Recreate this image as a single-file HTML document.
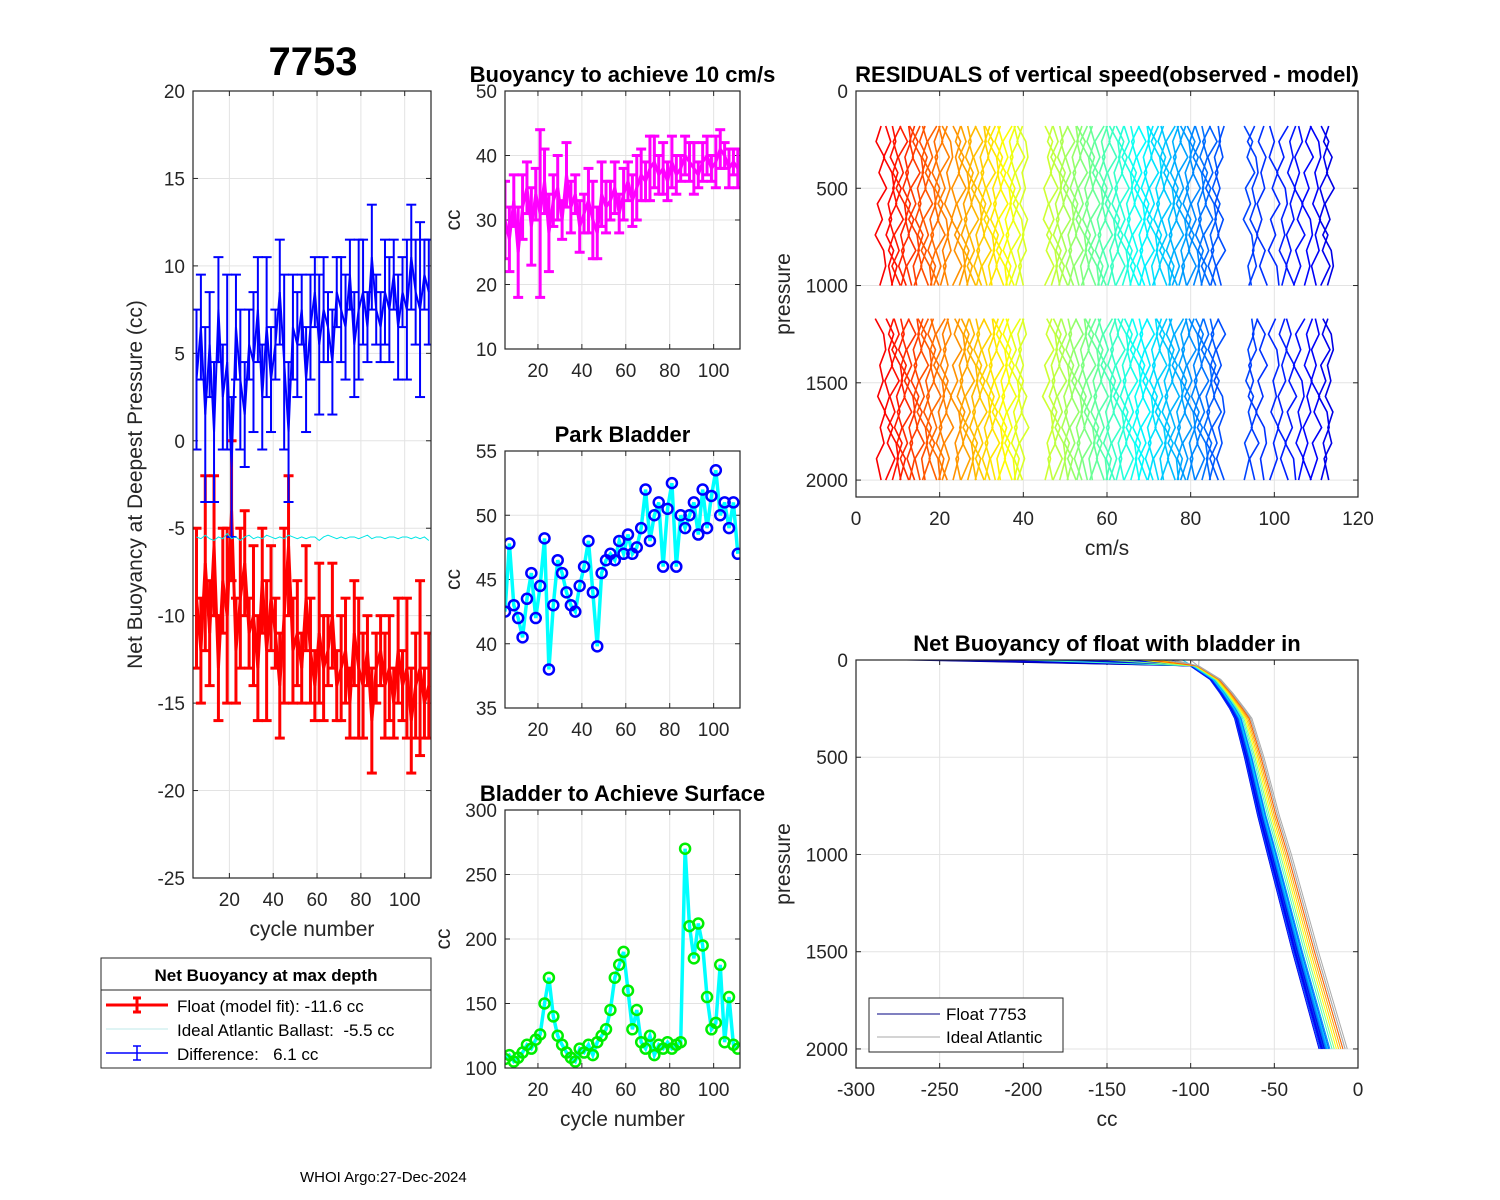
<!DOCTYPE html>
<html><head><meta charset="utf-8">
<style>
html,body{margin:0;padding:0;background:#fff;}
svg{display:block;font-family:"Liberation Sans",Arial,sans-serif;}
text{white-space:pre;}
</style></head>
<body>
<svg id="fig" width="1500" height="1200" viewBox="0 0 1500 1200" xmlns="http://www.w3.org/2000/svg">
<rect width="1500" height="1200" fill="#fff"/>
<text x="313" y="75" font-size="40" font-weight="bold" text-anchor="middle">7753</text>
<text x="300" y="1182" font-size="15">WHOI Argo:27-Dec-2024</text>
</svg>
<script>
// ---------- DATA ----------
const cycles = [5,7,9,11,13,15,17,19,21,23,25,27,29,31,33,35,37,39,41,43,45,47,49,51,53,55,57,59,61,63,65,67,69,71,73,75,77,79,81,83,85,87,89,91,93,95,97,99,101,103,105,107,109,111];
const floatFit = [-9,-12,-7,-11,-6,-13,-8,-10,-4,-12,-9,-7,-11,-10,-13,-8,-12,-9,-11,-14,-10,-6,-12,-11,-13,-9,-12,-14,-11,-13,-12,-10,-14,-13,-12,-15,-11,-13,-14,-12,-16,-13,-12,-14,-13,-15,-12,-14,-13,-16,-14,-13,-15,-14];
const diffVals = [3.5,6.5,1.5,5.5,0.5,7.5,2.5,4.5,-1.5,6.5,3.5,1.5,5.5,4.5,7.5,2.5,6.5,3.5,5.5,8.5,4.5,0.5,6.5,5.5,7.5,3.5,6.5,8.5,5.5,7.5,6.5,4.5,8.5,7.5,6.5,9.5,5.5,7.5,8.5,6.5,10.5,7.5,6.5,8.5,7.5,9.5,6.5,8.5,7.5,10.5,8.5,7.5,9.5,8.5];
const errVals = [4,3,5,3,4,3,3,5,4,3,4,3,2,4,3,3,4,3,2,3,5,4,3,3,2,3,3,2,4,3,2,3,2,3,3,2,3,4,3,2,3,2,2,3,3,2,3,2,4,3,3,5,2,3];
const idealVals = [-5.5,-5.6,-5.4,-5.6,-5.7,-5.5,-5.6,-5.3,-5.6,-5.5,-5.7,-5.5,-5.4,-5.6,-5.5,-5.6,-5.4,-5.5,-5.6,-5.5,-5.6,-5.4,-5.5,-5.6,-5.5,-5.6,-5.5,-5.5,-5.7,-5.5,-5.4,-5.5,-5.6,-5.5,-5.6,-5.5,-5.5,-5.6,-5.5,-5.4,-5.6,-5.5,-5.5,-5.6,-5.5,-5.5,-5.6,-5.5,-5.5,-5.6,-5.5,-5.6,-5.5,-5.7];
const buoy10 = [30,27,33,25,32,35,29,34,31,36,28,33,35,30,37,32,34,29,31,33,30,28,34,32,33,35,31,34,36,33,35,37,36,38,39,37,38,36,39,37,38,40,39,38,37,39,40,38,39,41,40,38,39,38];
const buoy10Err = [6,5,4,7,5,4,6,4,13,5,6,4,5,3,5,4,3,4,3,5,6,4,5,4,3,4,3,4,3,4,5,4,3,5,4,3,4,3,4,3,2,3,3,4,2,3,3,2,4,3,2,3,2,3];
const parkBladder = [42.5,47.8,43,42,40.5,43.5,45.5,42,44.5,48.2,38,43,46.5,45.5,44,43,42.5,44.5,46,48,44,39.8,45.5,46.5,47,46.5,48,47,48.5,47,47.5,49,52,48,50,51,46,50.5,52.5,46,50,49,50,51,48.5,52,49,51.5,53.5,50,51,49,51,47];
const surfBladder = [107,110,105,108,112,118,115,122,126,150,170,140,125,118,112,108,105,115,112,118,110,120,125,130,145,170,180,190,160,130,145,120,115,125,110,118,115,120,115,118,120,270,210,185,212,195,155,130,135,180,120,155,118,115];
const resCenters = [6,8,9,10,11,12,13,14,15,16,17,18,19,20,21,22,24,25,26,27,28,29,30,31,32,33,34,35,36,37,38,39,40,46,47,48,49,50,51,52,53,54,55,56,57,58,59,60,61,62,63,64,65,66,67,68,69,70,71,72,73,74,75,76,77,78,79,80,81,82,83,84,85,86,87,94,95,97,100,102,104,106,108,110,112,113];
const resPressures = [180,260,340,420,500,580,660,740,820,900,1000];
const resPressures2 = [1170,1250,1330,1410,1490,1570,1650,1730,1810,1890,2000];
const wiggle = [0,-1.2,0.8,-0.5,1.3,-0.9,0.3,-1.4,0.6,1.1,-0.3,0.5,-0.8,1.0,-0.2,0.7,-1.1];
const profP = [0,30,100,170,250,300,500,800,1000,1500,2000];
const profCC = [-150,-100,-88,-82,-76,-73,-67,-59,-53,-38,-22];
const profSurf = [-270,-260,-240,-220,-200,-190,-180,-170,-160,-150,-140,-135,-130,-125,-120,-118,-115,-112,-110,-105,-200,-150,-130,-120,-110,-115,-100,-95,-125,-110];
const profShift = [0,1,2,-1,0.5,1.5,-0.5,2.5,3,1,2,0,3.5,1.5,2,4,0.5,1,2.5,3,5,6,7,8,9,10,11,12,10,11];
const profColor = ['#00008f','#0000af','#0000cf','#0000ef','#0010ff','#0030ff','#0050ff','#0000bf','#0020ff','#0000df','#0040ff','#0000ff','#0060ff','#0010df','#0070ff','#0090ff','#0000ef','#0030ff','#00a0ff','#00d0ff','#40ffbf','#80ff80','#ffff00','#ffd000','#ffa000','#aaaaaa','#aaaaaa','#aaaaaa','#ff6000','#aaaaaa'];

// ---------- HELPERS ----------
const svg = document.getElementById('fig');
const NS = 'http://www.w3.org/2000/svg';
function el(tag, attrs, parent){const e=document.createElementNS(NS,tag);for(const k in attrs)e.setAttribute(k,attrs[k]);(parent||svg).appendChild(e);return e;}
function txt(s, attrs){const t=el('text',attrs);t.textContent=s;return t;}

function axes(o){
  const sx=v=>o.x0+(v-o.xmin)/(o.xmax-o.xmin)*(o.x1-o.x0);
  const sy=o.yrev? v=>o.y0+(v-o.ymin)/(o.ymax-o.ymin)*(o.y1-o.y0) : v=>o.y1-(v-o.ymin)/(o.ymax-o.ymin)*(o.y1-o.y0);
  const g=el('g',{});
  
  
  o.xticks.forEach(t=>{const x=sx(t);
    el('line',{x1:x,x2:x,y1:o.y0,y2:o.y1,stroke:'#e3e3e3','stroke-width':1},g);
    el('line',{x1:x,x2:x,y1:o.y1,y2:o.y1-5,stroke:'#262626'},g);
    el('line',{x1:x,x2:x,y1:o.y0,y2:o.y0+5,stroke:'#262626'},g);
    const tl=txt(String(t),{x:x,y:o.y1+28,'font-size':19,'text-anchor':'middle',fill:'#262626'});
    
    
  });
  o.yticks.forEach(t=>{const y=sy(t);
    el('line',{x1:o.x0,x2:o.x1,y1:y,y2:y,stroke:'#e3e3e3','stroke-width':1},g);
    el('line',{x1:o.x0,x2:o.x0+5,y1:y,y2:y,stroke:'#262626'},g);
    el('line',{x1:o.x1,x2:o.x1-5,y1:y,y2:y,stroke:'#262626'},g);
    const tl=txt(String(t),{x:o.x0-8,y:y+7,'font-size':19,'text-anchor':'end',fill:'#262626'});
    
    
  });
  const clip=el('clipPath',{id:'clip-'+o.name});
  el('rect',{x:o.x0,y:o.y0,width:o.x1-o.x0,height:o.y1-o.y0},clip);
  const plot=el('g',{'clip-path':'url(#clip-'+o.name+')'});
  
  
  const box=el('rect',{x:o.x0,y:o.y0,width:o.x1-o.x0,height:o.y1-o.y0,fill:'none',stroke:'#262626','stroke-width':1.2});
  
  
  if(o.title){const t=txt(o.title,{x:(o.x0+o.x1)/2,y:o.y0-9,'font-size':22,'font-weight':'bold','text-anchor':'middle'});
    
    }
  if(o.xlabel){const t=txt(o.xlabel,{x:(o.x0+o.x1)/2,y:o.y1+58,'font-size':21,'text-anchor':'middle',fill:'#262626'});
    
    }
  if(o.ylabel){const cx=o.ylx, cy=(o.y0+o.y1)/2;
    const t=txt(o.ylabel,{x:cx,y:cy,'font-size':21,'text-anchor':'middle',fill:'#262626',transform:'rotate(-90 '+cx+' '+cy+')'});
    
    }
  return {sx,sy,plot};
}
function errbars(ax, xs, ys, es, color, w, name){
  xs.forEach((c,i)=>{const x=ax.sx(c),yt=ax.sy(ys[i]+es[i]),yb=ax.sy(ys[i]-es[i]);
    const g=el('g',{stroke:color,'stroke-width':w},ax.plot);
    
    
    el('line',{x1:x,x2:x,y1:yt,y2:yb},g);
    el('line',{x1:x-5,x2:x+5,y1:yt,y2:yt},g);
    el('line',{x1:x-5,x2:x+5,y1:yb,y2:yb},g);
  });
  const l=el('polyline',{points:xs.map((c,i)=>ax.sx(c)+','+ax.sy(ys[i])).join(' '),fill:'none',stroke:color,'stroke-width':w},ax.plot);
  
  
}
function jet(t){const r=Math.min(Math.max(Math.min(4*t-1.5,-4*t+4.5),0),1),g=Math.min(Math.max(Math.min(4*t-0.5,-4*t+3.5),0),1),b=Math.min(Math.max(Math.min(4*t+0.5,-4*t+2.5),0),1);
  return 'rgb('+Math.round(r*255)+','+Math.round(g*255)+','+Math.round(b*255)+')';}

// ---------- PANEL 1 ----------
const a1=axes({name:'net-buoyancy',x0:193,x1:431,y0:91,y1:878,xmin:3.4,xmax:112,ymin:-25,ymax:20,xticks:[20,40,60,80,100],yticks:[-25,-20,-15,-10,-5,0,5,10,15,20],xlabel:'cycle number',ylabel:'Net Buoyancy at Deepest Pressure (cc)',ylx:142});
errbars(a1,cycles,floatFit,errVals,'#ff0000',3,'float-fit');
errbars(a1,cycles,diffVals,errVals,'#0000ff',2,'difference');
const il=el('polyline',{points:cycles.map((c,i)=>a1.sx(c)+','+a1.sy(idealVals[i])).join(' '),fill:'none',stroke:'#00e5e5','stroke-width':1},a1.plot);



const lg=el('g',{});


el('rect',{x:101,y:958,width:330,height:110,fill:'#fff',stroke:'#262626'},lg);
el('line',{x1:101,x2:431,y1:990,y2:990,stroke:'#262626'},lg);
(function(){const t=txt('Net Buoyancy at max depth',{x:266,y:981,'font-size':17,'font-weight':'bold','text-anchor':'middle'});
const es=[['#ff0000',3,'Float (model fit): -11.6 cc',1005,true],['#bfeaea',1,'Ideal Atlantic Ballast:  -5.5 cc',1029,false],['#0000ff',1.5,'Difference:   6.1 cc',1053,true]];
es.forEach(e=>{const g=el('g',{stroke:e[0],'stroke-width':e[1]});
 
 
 el('line',{x1:106,x2:168,y1:e[3],y2:e[3]},g);
 if(e[4]){el('line',{x1:137,x2:137,y1:e[3]-7,y2:e[3]+7},g);el('line',{x1:133,x2:141,y1:e[3]-7,y2:e[3]-7},g);el('line',{x1:133,x2:141,y1:e[3]+7,y2:e[3]+7},g);}
 txt(e[2],{x:177,y:e[3]+7,'font-size':17});});})();

// ---------- PANEL 2 ----------
const a2=axes({name:'buoyancy-10cms',x0:505,x1:740,y0:91,y1:349,xmin:5,xmax:112,ymin:10,ymax:50,xticks:[20,40,60,80,100],yticks:[10,20,30,40,50],title:'Buoyancy to achieve 10 cm/s',ylabel:'cc',ylx:460});
errbars(a2,cycles,buoy10,buoy10Err,'#ff00ff',3,'buoyancy-10cms');

// ---------- PANEL 3 ----------
const a3=axes({name:'park-bladder',x0:505,x1:740,y0:451,y1:708,xmin:5,xmax:112,ymin:35,ymax:55,xticks:[20,40,60,80,100],yticks:[35,40,45,50,55],title:'Park Bladder',ylabel:'cc',ylx:460});
function circleSeries(ax,ys,name,mk){
  const l=el('polyline',{points:cycles.map((c,i)=>ax.sx(c)+','+ax.sy(ys[i])).join(' '),fill:'none',stroke:'#00ffff','stroke-width':3.5},ax.plot);
  
  
  cycles.forEach((c,i)=>{const m=el('circle',{cx:ax.sx(c),cy:ax.sy(ys[i]),r:5,fill:'none',stroke:mk,'stroke-width':2.5},ax.plot);
    
    });
}
circleSeries(a3,parkBladder,'park-bladder','#0000ff');

// ---------- PANEL 4 ----------
const a4=axes({name:'bladder-surface',x0:505,x1:740,y0:810,y1:1068,xmin:5,xmax:112,ymin:100,ymax:300,xticks:[20,40,60,80,100],yticks:[100,150,200,250,300],title:'Bladder to Achieve Surface',xlabel:'cycle number',ylabel:'cc',ylx:450});
circleSeries(a4,surfBladder,'surface-bladder','#00ee00');

// ---------- PANEL 5 ----------
const a5=axes({name:'residuals',x0:856,x1:1358,y0:91,y1:497,xmin:0,xmax:120,ymin:0,ymax:2087,yrev:true,xticks:[0,20,40,60,80,100,120],yticks:[0,500,1000,1500,2000],title:'RESIDUALS of vertical speed(observed - model)',xlabel:'cm/s',ylabel:'pressure',ylx:790});
resCenters.forEach((c,i)=>{const col=jet(0.88-0.78*i/(resCenters.length-1));
  [resPressures,resPressures2].forEach((ps,k)=>{
    const pl=el('polyline',{points:ps.map((p,j)=>a5.sx(c+wiggle[(j+i*5+k*7)%wiggle.length])+','+a5.sy(p)).join(' '),fill:'none',stroke:col,'stroke-width':1.6},a5.plot);
    
    
  });});

// ---------- PANEL 6 ----------
const a6=axes({name:'net-buoyancy-profile',x0:856,x1:1358,y0:660,y1:1068,xmin:-300,xmax:0,ymin:0,ymax:2098,yrev:true,xticks:[-300,-250,-200,-150,-100,-50,0],yticks:[0,500,1000,1500,2000],title:'Net Buoyancy of float with bladder in',xlabel:'cc',ylabel:'pressure',ylx:790});
profShift.forEach((s,i)=>{
  const pts=profP.map((p,j)=>{const v=j===0?profSurf[i]:profCC[j]+s*(j/(profP.length-1))+s*0.3;return a6.sx(v)+','+a6.sy(p);}).join(' ');
  const pl=el('polyline',{points:pts,fill:'none',stroke:profColor[i],'stroke-width':1},a6.plot);
  
  
});
(function(){const g=el('g',{});
 
 
 el('rect',{x:869,y:998,width:194,height:54,fill:'#fff',stroke:'#262626'},g);
 el('line',{x1:877,x2:940,y1:1014,y2:1014,stroke:'#000080'},g);
 el('line',{x1:877,x2:940,y1:1037,y2:1037,stroke:'#aaaaaa'},g);
 txt('Float 7753',{x:946,y:1020,'font-size':17});
 txt('Ideal Atlantic',{x:946,y:1043,'font-size':17});})();
</script>
</body></html>
